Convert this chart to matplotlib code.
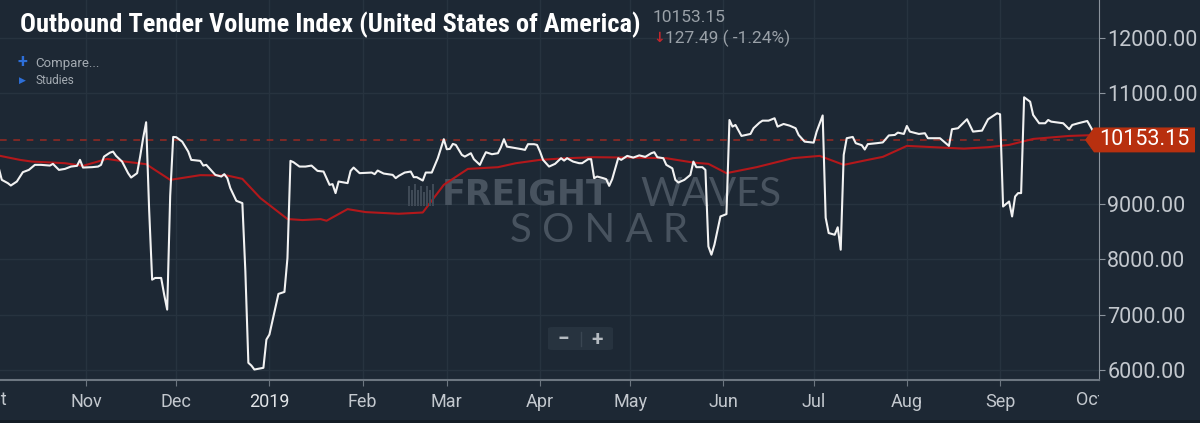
import numpy as np
import pandas as pd
import matplotlib
matplotlib.use("Agg")
import matplotlib.pyplot as plt
import matplotlib.transforms as mtransforms
from matplotlib.patches import Polygon, FancyBboxPatch, Rectangle
from matplotlib import font_manager

# data: day offsets from 2018-10-01 and index values
base = pd.Timestamp("2018-10-01")
days_otvi = [2, 3, 5, 6, 8, 10, 12, 14, 16, 19, 20, 22, 24, 26, 28, 29, 30, 33, 35, 36,
             37, 39, 40, 41, 43, 45, 46, 48, 49, 50, 51, 52, 53, 54, 56, 57, 58, 59, 60, 61,
             63, 65, 66, 69, 70, 71, 74, 76, 77, 78, 79, 81, 83, 84, 85, 86, 87, 90, 91, 92,
             95, 97, 98, 99, 100, 102, 104, 106, 108, 110, 112, 113, 114, 115, 118, 119, 120, 122, 126, 127,
             128, 130, 133, 134, 135, 137, 139, 140, 141, 143, 144, 146, 148, 150, 151, 152, 153, 154, 156, 157,
             159, 160, 162, 163, 164, 166, 168, 169, 170, 171, 173, 174, 176, 177, 178, 180, 181, 182, 183, 185,
             187, 189, 190, 191, 193, 195, 196, 198, 199, 200, 201, 203, 204, 205, 206, 208, 209, 211, 213, 215,
             217, 219, 220, 221, 223, 224, 226, 227, 228, 230, 232, 233, 234, 236, 237, 238, 239, 240, 242, 244,
             245, 246, 247, 249, 252, 253, 255, 256, 258, 260, 261, 263, 265, 267, 268, 270, 273, 274, 276, 277,
             278, 280, 281, 282, 283, 284, 286, 287, 289, 290, 291, 294, 296, 298, 300, 301, 303, 304, 305, 308,
             310, 311, 315, 318, 319, 321, 324, 326, 329, 331, 334, 335, 336, 338, 339, 340, 341, 342, 343, 345,
             346, 348, 350, 351, 352, 356, 358, 359, 361, 364, 366, 367]
otvi = [9643, 9432, 9373, 9330, 9402, 9571, 9612, 9703, 9703, 9690, 9721, 9612, 9630, 9672, 9685, 9793, 9654, 9661, 9672, 9703,
        9852, 9924, 9942, 9865, 9762, 9553, 9474, 9553, 9852, 10184, 10472, 8892, 7630, 7661, 7661, 7360, 7090, 9144, 10207, 10202,
        10122, 9942, 9793, 9775, 9690, 9703, 9522, 9492, 9535, 9463, 9283, 9054, 9012, 7780, 6129, 6080, 6008, 6039, 6549, 6639,
        7373, 7409, 8021, 9775, 9751, 9672, 9672, 9690, 9594, 9582, 9342, 9355, 9193, 9402, 9373, 9594, 9654, 9553, 9564, 9535,
        9600, 9546, 9522, 9463, 9504, 9564, 9582, 9481, 9481, 9420, 9564, 9564, 9823, 10166, 9985, 9991, 10081, 10063, 9883, 9852,
        9913, 9805, 9703, 9823, 9931, 9895, 9913, 10022, 10166, 10032, 10014, 10003, 9985, 9973, 10076, 10076, 10063, 9942, 9793, 9672,
        9721, 9823, 9780, 9823, 9762, 9733, 9733, 9805, 9805, 9463, 9492, 9463, 9445, 9324, 9445, 9823, 9793, 9865, 9834, 9874,
        9847, 9913, 9931, 9841, 9823, 9703, 9640, 9432, 9384, 9432, 9522, 9762, 9661, 9661, 9612, 8230, 8081, 8261, 8771, 8814,
        10513, 10393, 10423, 10225, 10261, 10364, 10465, 10501, 10501, 10544, 10393, 10441, 10411, 10364, 10243, 10122, 10104, 10303, 10595, 8748,
        8472, 8441, 8576, 8171, 9883, 10184, 10207, 10094, 10058, 9980, 10077, 10094, 10108, 10234, 10243, 10285, 10261, 10405, 10303, 10261,
        10274, 10184, 10184, 10045, 10346, 10364, 10526, 10303, 10321, 10526, 10634, 10616, 8951, 9041, 8771, 9131, 9193, 9193, 10923, 10843,
        10604, 10454, 10454, 10513, 10483, 10454, 10346, 10423, 10454, 10495, 10303, 10153.15]

days_ma = [2, 9, 13, 24, 30, 38, 44, 51, 59, 69, 78, 83, 89, 98, 103, 109, 111, 118, 124, 135,
           143, 150, 158, 168, 174, 182, 191, 200, 213, 224, 233, 238, 244, 254, 266, 275, 283, 291, 296, 304,
           316, 323, 331, 338, 346, 358, 365]
otvi_ma = [9870, 9793, 9762, 9733, 9685, 9811, 9762, 9715, 9432, 9517, 9510, 9450, 9103, 8725, 8706, 8724, 8694, 8904, 8850, 8820,
           8843, 9342, 9630, 9661, 9733, 9793, 9823, 9841, 9834, 9823, 9744, 9721, 9553, 9661, 9823, 9865, 9703, 9793, 9847, 10045,
           10014, 9996, 10022, 10063, 10171, 10225, 10238]

last_value = 10153.15
change = 127.49
change_pct = -1.24
month_labels = ["Nov", "Dec", "2019", "Feb", "Mar", "Apr", "May", "Jun", "Jul", "Aug", "Sep"]
y_ticks = [6000, 7000, 8000, 9000, 10000, 11000, 12000]

dates_otvi = base + pd.to_timedelta(days_otvi, unit="D")
dates_ma = base + pd.to_timedelta(days_ma, unit="D")

# fonts
names = {f.name for f in font_manager.fontManager.ttflist}
title_font = "Roboto"
for cand in ["Roboto Condensed", "Liberation Sans Narrow", "DejaVu Sans Condensed"]:
    if cand in names:
        title_font = cand
        break
plt.rcParams["font.family"] = ["Roboto", "DejaVu Sans"]

bg = "#1d2834"
grid_c = "#27333f"
txt_c = "#c3c8ce"
wm_c = "#48535f"

fig = plt.figure(figsize=(12, 4.23), dpi=100, facecolor=bg)
ax = fig.add_axes([0, 43 / 423, 1099 / 1200, 380 / 423])
ax.set_facecolor(bg)

x0 = base + pd.Timedelta(days=2.4)
x1 = base + pd.Timedelta(days=367.9)
ax.set_xlim(x0, x1)
ax.set_ylim(5819, 12679)

# grid
months = pd.date_range("2018-11-01", "2019-09-01", freq="MS")
for m in months:
    ax.axvline(m, color=grid_c, lw=1, zorder=0)
for v in y_ticks:
    ax.axhline(v, color=grid_c, lw=1, zorder=0)

# watermark (logo bars + words)
bar_x = [408, 411, 414, 417, 420, 423, 426, 429, 432]
bar_top = [186, 190, 184, 190, 186, 192, 186, 190, 184]
for bx, bt_ in zip(bar_x, bar_top):
    fig.patches.append(Rectangle((bx / 1200, 1 - 206 / 423), 1.6 / 1200, (206 - bt_) / 423,
                                 transform=fig.transFigure, facecolor="#3f4a56", edgecolor="none", zorder=1))
ax.text(442 / 1099, (380 - 194) / 380, "FREIGHT", transform=ax.transAxes, color=wm_c,
        fontsize=25, fontweight="heavy", family="DejaVu Sans", ha="left", va="center", zorder=1)
ax.text(640 / 1099, (380 - 194) / 380, "WAVES", transform=ax.transAxes, color=wm_c,
        fontsize=29, fontweight="normal", family=["Lato", "Roboto"], ha="left", va="center", zorder=1)
ax.text(599 / 1099, (380 - 230) / 380, "S O N A R", transform=ax.transAxes, color=wm_c,
        fontsize=29, fontweight="normal", family=["Lato", "Roboto"], ha="center", va="center", zorder=1)

# series
ax.axhline(last_value, color="#8e2a24", lw=1.2, ls=(0, (4, 4)), zorder=2)
ax.plot(dates_ma, otvi_ma, color="#b3181b", lw=1.5, zorder=3)
ax.plot(dates_otvi, otvi, color="#f2f2f2", lw=1.5, zorder=4)

# axes styling
for s in ["top", "left"]:
    ax.spines[s].set_visible(False)
ax.spines["right"].set_color("#8b949d")
ax.spines["bottom"].set_color("#6d7781")
ax.spines["bottom"].set_linewidth(1.5)
ax.yaxis.tick_right()
ax.set_yticks(y_ticks)
# the 10000.00 label sits under the last-value tag in the original
ax.set_yticklabels(["" if v == 10000 else f"{v:.2f}" for v in y_ticks])
ax.tick_params(axis="y", colors="#8b949d", labelcolor=txt_c, labelsize=15.5, length=4, pad=2)
ax.set_xticks(months)
ax.set_xticklabels(month_labels)
ax.tick_params(axis="x", colors="#6d7781", labelcolor=txt_c, labelsize=13, length=4, pad=5)
for lbl in ax.get_xticklabels():
    if lbl.get_text() == "2019":
        lbl.set_color("#e2e5e8")

# partial "Oct" labels at both ends
clip = mtransforms.TransformedBbox(mtransforms.Bbox.from_extents(0, 0, 1099 / 1200, 1), fig.transFigure)
bt = mtransforms.blended_transform_factory(ax.transData, fig.transFigure)
for d in [base, pd.Timestamp("2019-10-01")]:
    t = ax.text(d, 1 - 400 / 423, "Oct", transform=bt, color=txt_c, fontsize=13,
                ha="center", va="center", clip_on=True)
    t.set_clip_path(None)
    t.set_clip_box(clip)

# last-value tag
bl = mtransforms.blended_transform_factory(ax.transAxes, ax.transData)
h = 225
tag = Polygon([(1085 / 1099, last_value), (1094 / 1099, last_value + h), (1195 / 1099, last_value + h),
               (1195 / 1099, last_value - h), (1094 / 1099, last_value - h)],
              closed=True, transform=bl, facecolor="#b8300f", edgecolor="none", clip_on=False, zorder=6)
ax.add_patch(tag)
ax.text(1144 / 1099, last_value, f"{last_value:.2f}", transform=bl, color="white",
        fontsize=15.5, ha="center", va="center", clip_on=False, zorder=7)

# zoom control box
zb = FancyBboxPatch((548 / 1200, 1 - 350 / 423), 65 / 1200, 23 / 423, boxstyle="round,pad=0,rounding_size=0.004",
                    transform=fig.transFigure, facecolor="#27333f", edgecolor="none", zorder=5)
fig.patches.append(zb)
fig.text(563 / 1200, 1 - 339 / 423, "\u2212", color="#b5bbc1", fontsize=15, fontweight="bold",
         ha="center", va="center", zorder=7)
fig.text(597 / 1200, 1 - 339 / 423, "+", color="#b5bbc1", fontsize=15, fontweight="bold",
         ha="center", va="center", zorder=7)
fig.add_artist(plt.Line2D([581 / 1200, 581 / 1200], [1 - 346 / 423, 1 - 332 / 423], color="#3a4652", lw=1, zorder=7))

# header texts
fig.text(20 / 1200, 1 - 25 / 423, "Outbound Tender Volume Index (United States of America)", color="white",
         fontsize=19, fontweight="bold", family=[title_font, "DejaVu Sans"], ha="left", va="center")
fig.text(653 / 1200, 1 - 17 / 423, f"{last_value:.2f}", color="#9aa1a8", fontsize=12.5, ha="left", va="center")
fig.text(653 / 1200, 1 - 38 / 423, "\u2193", color="#c0262c", fontsize=10, fontweight="bold",
         family="DejaVu Sans", ha="left", va="center")
fig.text(665 / 1200, 1 - 38 / 423, f"{change:.2f} ( {change_pct:.2f}%)", color="#9aa1a8", fontsize=12.5,
         ha="left", va="center")
fig.text(17 / 1200, 1 - 62 / 423, "+", color="#2d6fd8", fontsize=13, fontweight="bold", ha="left", va="center")
fig.text(35 / 1200, 1 - 63 / 423, "Compare...", color="#a4abb2", fontsize=9.5, ha="left", va="center")
fig.text(19 / 1200, 1 - 80 / 423, "\u25b6", color="#2d6fd8", fontsize=6.5, family="DejaVu Sans", ha="left", va="center")
fig.text(35 / 1200, 1 - 80 / 423, "Studies", color="#a4abb2", fontsize=8.5, ha="left", va="center")

fig.add_artist(Rectangle((0, 0), 1, 3 / 423, transform=fig.transFigure, facecolor="#141c25", edgecolor="none"))

fig.savefig("out.png", dpi=100, facecolor=bg)
